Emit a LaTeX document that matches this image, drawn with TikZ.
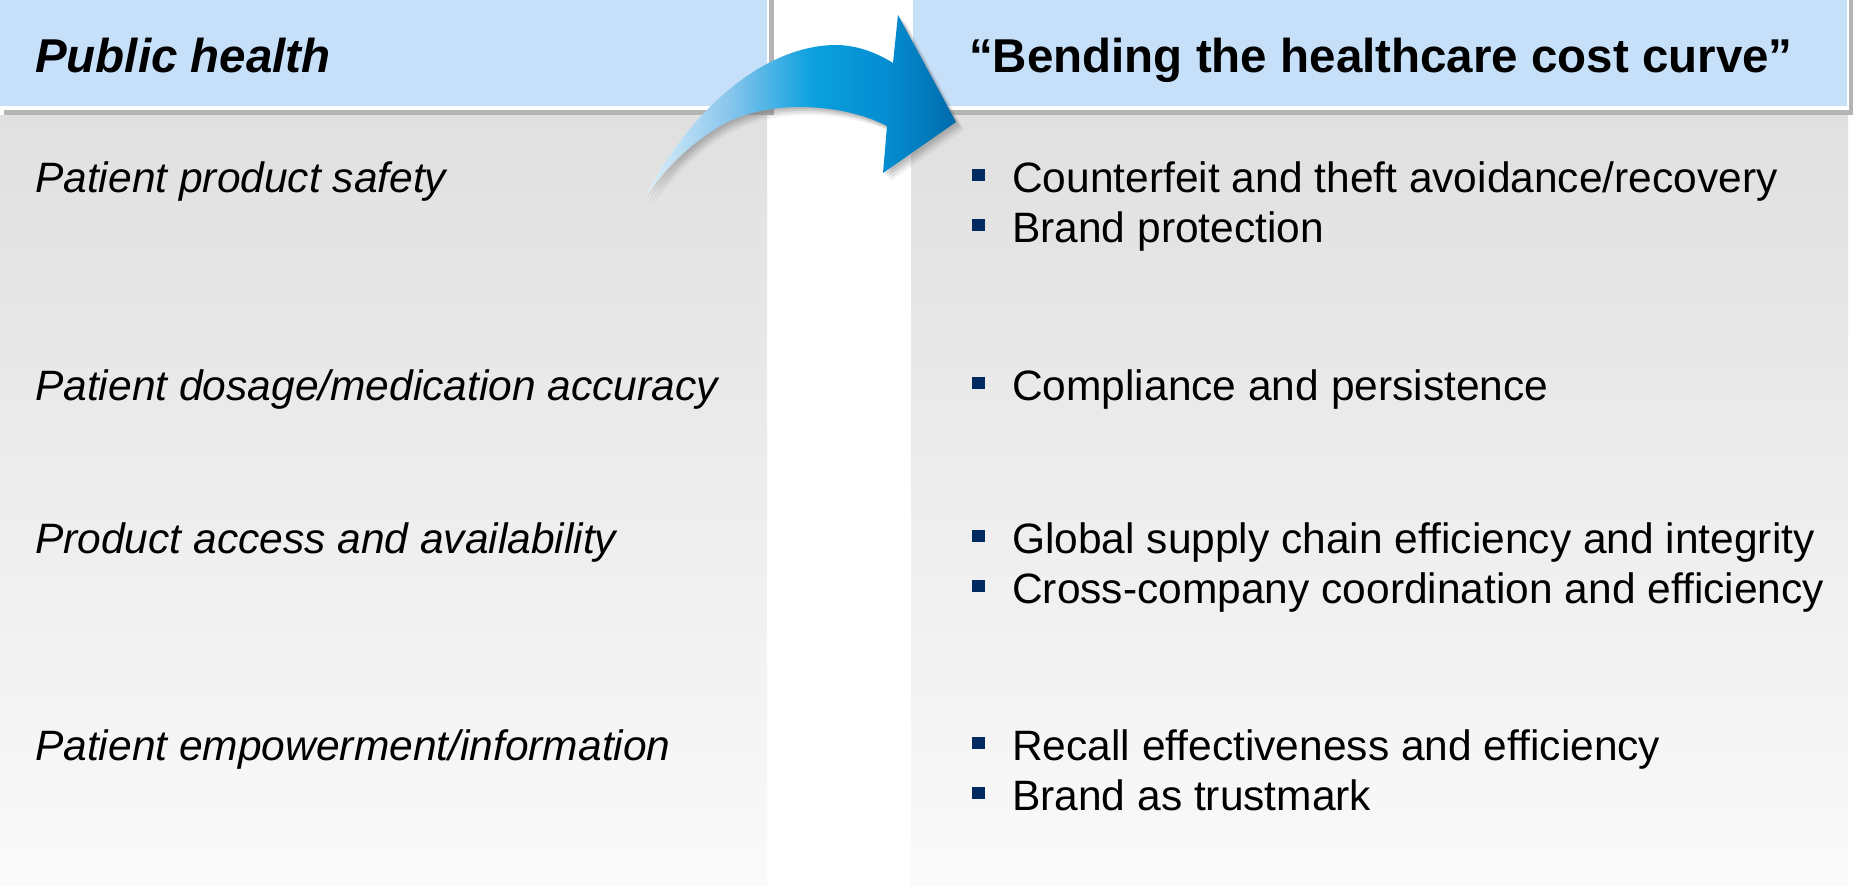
\documentclass[tikz,border=0pt]{standalone}
\usepackage{fontspec}
\setmainfont{Liberation Sans}
\definecolor{hdrblue}{RGB}{198,224,250}
\definecolor{shadowgray}{RGB}{180,180,180}
\definecolor{bulletnavy}{RGB}{0,42,96}
\definecolor{paneltop}{RGB}{224,224,224}
\definecolor{panelbot}{RGB}{250,250,250}
\pgfdeclarehorizontalshading{arrowshade}{100bp}{%
  rgb(0bp)=(0.87,0.94,0.98);
  rgb(25bp)=(0.87,0.94,0.98);
  rgb(38bp)=(0.55,0.78,0.93);
  rgb(52bp)=(0.04,0.63,0.87);
  rgb(64bp)=(0.02,0.55,0.82);
  rgb(75bp)=(0.0,0.42,0.67);
  rgb(100bp)=(0.0,0.42,0.67)}
\tikzset{
  headtext/.style={anchor=base west, inner sep=0pt, font=\fontsize{47.5}{57}\selectfont\bfseries},
  lefttext/.style={anchor=base west, inner sep=0pt, font=\fontsize{42.5}{51}\selectfont\itshape},
  righttext/.style={anchor=base west, inner sep=0pt, font=\fontsize{42.5}{51}\selectfont},
  bulletsq/.style={fill=bulletnavy, inner sep=0pt, minimum width=12.5pt, minimum height=12pt, anchor=center},
  panel/.style={top color=paneltop, bottom color=panelbot}
}
\begin{document}
\begin{tikzpicture}[x=1pt,y=-1pt]
\useasboundingbox (0,0) rectangle (1853,886);
\fill[white] (0,0) rectangle (1853,886);

% body panels
\shade[panel] (0,115) rectangle (767,886);
\shade[panel] (911,115) rectangle (1848,886);

% left header
\fill[shadowgray] (4,110) rectangle (774,115);
\fill[shadowgray] (769,0) rectangle (774,115);
\fill[white] (0,0) rectangle (769,110);
\fill[hdrblue] (0,0) rectangle (767,106);
\node[headtext] (hl) at (35,72) {\itshape Public health};

% right header
\fill[shadowgray] (916,110) rectangle (1853,115);
\fill[shadowgray] (1849,0) rectangle (1853,115);
\fill[white] (911,0) rectangle (1849,110);
\fill[hdrblue] (913,0) rectangle (1847,106);
\node[headtext] (hr) at (969,72) {“Bending the healthcare cost curve”};

% arrow shadow
\foreach \s/\o in {2/0.16,4/0.16,6/0.12,8/0.08}{
\fill[black!60, opacity=\o, shift={(\s pt,-\s pt)}]
  (645,197) .. controls (690,110) and (765,44) .. (838,45)
  .. controls (862,46) and (880,55) .. (893,63) -- (898,15) -- (956,122) -- (883,173) -- (887,126)
  .. controls (845,104) and (770,98) .. (722,125)
  .. controls (690,143) and (662,172) .. (645,197) -- cycle;
}
% arrow
\shade[shading=arrowshade]
  (645,197) .. controls (690,110) and (765,44) .. (838,45)
  .. controls (862,46) and (880,55) .. (893,63) -- (898,15) -- (956,122) -- (883,173) -- (887,126)
  .. controls (845,104) and (770,98) .. (722,125)
  .. controls (690,143) and (662,172) .. (645,197) -- cycle;

% left column
\node[lefttext] (l1) at (35,192) {Patient product safety};
\node[lefttext] (l2) at (35,400) {Patient dosage/medication accuracy};
\node[lefttext] (l3) at (35,553) {Product access and availability};
\node[lefttext] (l4) at (35,760) {Patient empowerment/information};

% right column
\node[bulletsq] (b1) at (978.5,175) {};
\node[righttext] (r1) at (1012,192) {Counterfeit and theft avoidance/recovery};
\node[bulletsq] (b2) at (978.5,225) {};
\node[righttext] (r2) at (1012,242) {Brand protection};
\node[bulletsq] (b3) at (978.5,383) {};
\node[righttext] (r3) at (1012,400) {Compliance and persistence};
\node[bulletsq] (b4) at (978.5,536) {};
\node[righttext] (r4) at (1012,553) {Global supply chain efficiency and integrity};
\node[bulletsq] (b5) at (978.5,586) {};
\node[righttext] (r5) at (1012,603) {Cross-company coordination and efficiency};
\node[bulletsq] (b6) at (978.5,743) {};
\node[righttext] (r6) at (1012,760) {Recall effectiveness and efficiency};
\node[bulletsq] (b7) at (978.5,793) {};
\node[righttext] (r7) at (1012,810) {Brand as trustmark};
\end{tikzpicture}
\end{document}
